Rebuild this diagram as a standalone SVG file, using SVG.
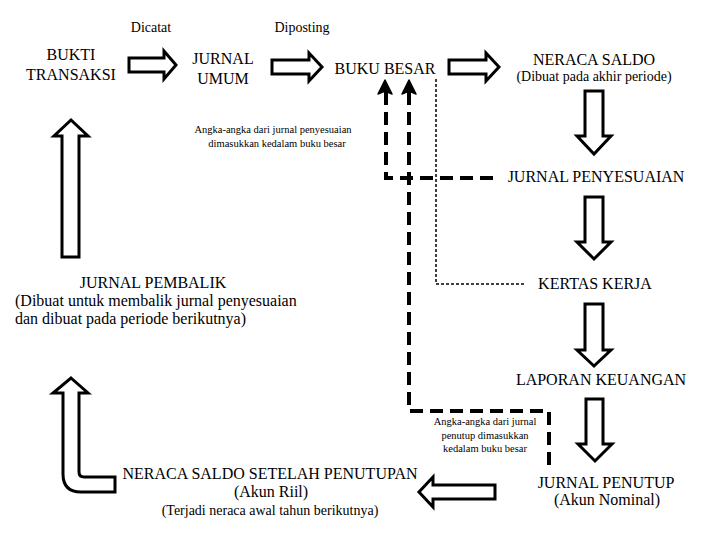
<svg xmlns="http://www.w3.org/2000/svg" width="720" height="540" viewBox="0 0 720 540">
<style>
text{font-family:"Liberation Serif","Times New Roman",serif;fill:#000}
.t{font-size:16px;text-anchor:middle}
.s{font-size:14px;text-anchor:middle}
.xs{font-size:10.5px;text-anchor:middle}
.blk{fill:#fff;stroke:#000;stroke-width:3;stroke-linejoin:miter}
.dash{fill:none;stroke:#000;stroke-width:4;stroke-dasharray:13 7}
.dot{fill:none;stroke:#000;stroke-width:1.5;stroke-dasharray:3 2}
</style>
<rect width="720" height="540" fill="#fff"/>
<g id="labels">
<text class="s" x="151" y="32">Dicatat</text>
<text class="s" x="302" y="32">Diposting</text>
</g>
<g id="bukti-transaksi">
<text class="t" x="71" y="60">BUKTI</text>
<text class="t" x="71" y="80">TRANSAKSI</text>
</g>
<g id="jurnal-umum">
<text class="t" x="223" y="64">JURNAL</text>
<text class="t" x="223" y="84">UMUM</text>
</g>
<g id="buku-besar">
<text class="t" x="385" y="74">BUKU BESAR</text>
</g>
<g id="neraca-saldo">
<text class="t" x="594" y="65">NERACA SALDO</text>
<text class="s" x="594" y="81">(Dibuat pada akhir periode)</text>
</g>
<g id="jurnal-penyesuaian">
<text class="t" x="596" y="182">JURNAL PENYESUAIAN</text>
</g>
<g id="kertas-kerja">
<text class="t" x="595" y="289">KERTAS KERJA</text>
</g>
<g id="laporan-keuangan">
<text class="t" x="601" y="385">LAPORAN KEUANGAN</text>
</g>
<g id="jurnal-penutup">
<text class="t" x="606" y="488">JURNAL PENUTUP</text>
<text class="t" x="607" y="505">(Akun Nominal)</text>
</g>
<g id="neraca-saldo-setelah-penutupan">
<text class="t" x="270" y="479">NERACA SALDO SETELAH PENUTUPAN</text>
<text class="t" x="271" y="497">(Akun Riil)</text>
<text class="s" x="270" y="515">(Terjadi neraca awal tahun berikutnya)</text>
</g>
<g id="jurnal-pembalik">
<text class="t" x="153" y="288">JURNAL PEMBALIK</text>
<text x="15" y="306" font-size="16">(Dibuat untuk membalik jurnal penyesuaian</text>
<text x="15" y="324" font-size="16">dan dibuat pada periode berikutnya)</text>
</g>
<g id="note-penyesuaian">
<text class="xs" x="273" y="133">Angka-angka dari jurnal penyesuaian</text>
<text class="xs" x="277" y="147">dimasukkan kedalam buku besar</text>
</g>
<g id="note-penutup">
<text class="xs" x="485" y="425">Angka-angka dari jurnal</text>
<text class="xs" x="485" y="439">penutup dimasukkan</text>
<text class="xs" x="485" y="452">kedalam buku besar</text>
</g>
<g id="connectors">
<path class="blk" d="M129,58 H164 V51 L176,65 L164,79 V72 H129 Z"/>
<path class="blk" d="M272,60 H309 V53 L322,67 L309,81 V74 H272 Z"/>
<path class="blk" d="M449,60 H486 V53 L499,67 L486,81 V74 H449 Z"/>
<path class="blk" d="M585,91 V136 H577 L594,154 L611,136 H603 V91 Z"/>
<path class="blk" d="M585,197 V242 H577 L594,259 L611,242 H603 V197 Z"/>
<path class="blk" d="M585,304 V350 H577 L594,366 L611,350 H603 V304 Z"/>
<path class="blk" d="M586,399 V444 H578 L595,461 L612,444 H603 V399 Z"/>
<path class="blk" d="M495,485 H433 V477 L419,492 L433,507 V499 H495 Z"/>
<path class="blk" d="M62,257 V136 H54 L71,120 L88,136 H79 V257 Z"/>
<path class="blk" d="M71,378 L88,393 H79 V472 Q79,477 84,477 H115 V492 H81 Q63,492 63,474 V393 H53 Z"/>
<path class="dash" d="M386,92 V178 H500"/>
<path class="dash" d="M409,92 V411 H549 V467"/>
<path class="dot" d="M436,79 V284 H525"/>
<path d="M385,80 L392,94 L385,91 L378,94 Z" fill="#000" stroke="#000" stroke-width="1.5" stroke-linejoin="round"/>
<path d="M409,80 L416,94 L409,91 L402,94 Z" fill="#000" stroke="#000" stroke-width="1.5" stroke-linejoin="round"/>
</g>
</svg>
